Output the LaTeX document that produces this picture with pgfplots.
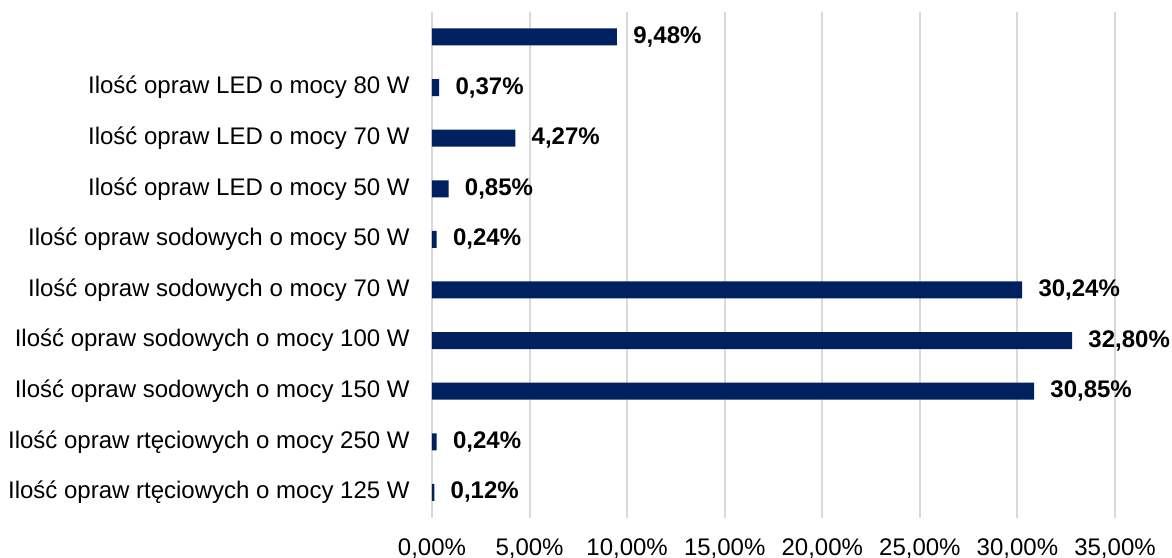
\documentclass[border=0pt]{standalone}
\usepackage{fontspec}
\setmainfont{Liberation Sans}
\usepackage{pgfplots}
\pgfplotsset{compat=1.18}
\definecolor{barnavy}{HTML}{002060}
\definecolor{gridgray}{HTML}{D9D9D9}
\begin{document}
\fontsize{12bp}{14bp}\selectfont
\begin{tikzpicture}
\useasboundingbox (-216bp,-20.15bp) rectangle (370bp,258.85bp);
\begin{axis}[
  xbar,
  scale only axis,
  width=341.5bp, height=253bp,
  xmin=0, xmax=35, ymin=-0.5, ymax=9.5,
  axis line style={draw=none},
  major tick length=0pt,
  xmajorgrids,
  major grid style={gridgray, line width=1bp},
  xtick={0,5,10,15,20,25,30,35},
  xticklabels={{0,00\%},{5,00\%},{10,00\%},{15,00\%},{20,00\%},{25,00\%},{30,00\%},{35,00\%}},
  ytick={0,...,9},
  yticklabels={
    Ilość opraw rtęciowych o mocy 125 W,
    Ilość opraw rtęciowych o mocy 250 W,
    Ilość opraw sodowych o mocy 150 W,
    Ilość opraw sodowych o mocy 100 W,
    Ilość opraw sodowych o mocy 70 W,
    Ilość opraw sodowych o mocy 50 W,
    Ilość opraw LED o mocy 50 W,
    Ilość opraw LED o mocy 70 W,
    Ilość opraw LED o mocy 80 W,
    {}},
  yticklabel style={anchor=east, inner sep=0pt, xshift=-11bp},
  xticklabel style={anchor=north, inner sep=0pt, yshift=-10.5bp},
  bar width=8.5bp,
  point meta=x,
  nodes near coords={\pgfmathprintnumber[fixed,fixed zerofill,precision=2,use comma,assume math mode=true]{\pgfplotspointmeta}\%},
  nodes near coords style={font=\bfseries, anchor=west, inner sep=0pt, xshift=8bp, text=black},
]
\addplot[draw=none, fill=barnavy] coordinates {
  (0.12,0) (0.24,1) (30.85,2) (32.80,3) (30.24,4)
  (0.24,5) (0.85,6) (4.27,7) (0.37,8) (9.48,9)
};
\end{axis}
\end{tikzpicture}
\end{document}
